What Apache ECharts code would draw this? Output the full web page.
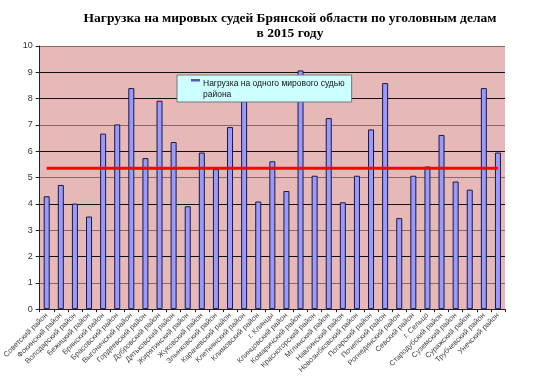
<!DOCTYPE html>
<html>
<head>
<meta charset="utf-8">
<script src="https://cdn.jsdelivr.net/npm/echarts@6/dist/echarts.min.js"></script>
<style>
  html, body { margin: 0; padding: 0; background: #fff; }
  #chart { width: 537px; height: 376px; }
</style>
</head>
<body>
<div id="chart"></div>
<script>
// районы и города области
const districts = [
  'Советский район', 'Фокинский район', 'Володарский район', 'Бежицкий район',
  'Брянский район', 'Брасовский район', 'Выгоничский район', 'Гордеевский район',
  'Дубровский район', 'Дятьковский район', 'Жирятинский район', 'Жуковский район',
  'Злынковский район', 'Карачевский район', 'Клетнянский район', 'Климовский район',
  'г. Клинцы', 'Клинцовский район', 'Комаричский район', 'Красногорский район',
  'Мглинский район', 'Навлинский район', 'Новозыбковский район', 'Погарский район',
  'Почепский район', 'Рогнединский район', 'Севский район', 'г. Сельцо',
  'Стародубский район', 'Суземский район', 'Суражский район', 'Трубчевский район',
  'Унечский район'
]
// нагрузка на одного судью
const load = [
  4.29, 4.72, 4.01, 3.52, 6.67, 7.02, 8.40, 5.74, 7.92, 6.35, 3.91,
  5.95, 5.32, 6.92, 7.90, 4.09, 5.62, 4.49, 9.07, 5.07, 7.26, 4.06,
  5.07, 6.83, 8.59, 3.46, 5.07, 5.42, 6.62, 4.85, 4.54, 8.40, 5.95
]
// средняя по области
const average = [
  5.35, 5.35, 5.35, 5.35, 5.35, 5.35, 5.35, 5.35, 5.35, 5.35, 5.35,
  5.35, 5.35, 5.35, 5.35, 5.35, 5.35, 5.35, 5.35, 5.35, 5.35, 5.35,
  5.35, 5.35, 5.35, 5.35, 5.35, 5.35, 5.35, 5.35, 5.35, 5.35, 5.35
]
const seriesName = 'Нагрузка на одного мирового судью'

const chart = echarts.init(document.getElementById('chart'))
chart.setOption({
  animation: false,
  title: {
    text: 'Нагрузка на мировых судей Брянской области по уголовным делам\nв 2015 году',
    left: 285,
    top: 6,
    textAlign: 'center',
    textStyle: {
      fontFamily: 'Liberation Serif',
      fontWeight: 'bold',
      fontSize: 13.5,
      lineHeight: 15,
      color: '#000'
    }
  },
  legend: {
    data: [seriesName],
    left: 177,
    top: 75,
    backgroundColor: '#CCFFFF',
    borderColor: '#777',
    borderWidth: 1,
    padding: [3, 7, 2, 14],
    itemWidth: 9,
    itemHeight: 20,
    itemGap: 4,
    icon: 'path://M0,0H9V2.5H0Z M0,19.99H0.01V20H0Z',
    itemStyle: { color: '#5555bb', borderWidth: 0 },
    formatter: name => name + '\nрайона',
    textStyle: {
      fontFamily: 'Liberation Sans',
      fontSize: 8.5,
      lineHeight: 11,
      color: '#111',
      padding: [0, 0, 0, -2]
    }
  },
  grid: {
    left: 38,
    right: 32,
    top: 46,
    bottom: 65,
    show: true,
    backgroundColor: '#E6B9B8',
    borderWidth: 0
  },
  xAxis: {
    type: 'category',
    data: districts,
    axisLine: { lineStyle: { color: '#222', width: 1 } },
    axisTick: { show: true, length: 3, lineStyle: { color: '#222' } },
    axisLabel: {
      interval: 0,
      rotate: 45,
      margin: 5,
      fontFamily: 'Liberation Sans',
      fontSize: 7.5,
      color: '#444'
    }
  },
  yAxis: {
    type: 'value',
    min: 0,
    max: 10,
    interval: 1,
    axisLine: { show: true, lineStyle: { color: '#222', width: 1 } },
    axisTick: { show: true, length: 4, lineStyle: { color: '#222' } },
    axisLabel: {
      margin: 7,
      fontFamily: 'Liberation Sans',
      fontSize: 9,
      color: '#333'
    },
    splitLine: {
      lineStyle: {
        color: ['#222', '#8a6666', '#111', '#8a6666', '#111', '#8a6666',
          '#111', '#8a6666', '#111', '#111', '#8a6666'],
        width: 1
      }
    }
  },
  series: [
    {
      name: seriesName,
      type: 'bar',
      data: load,
      barWidth: 6,
      itemStyle: {
        color: '#9999FF',
        borderColor: '#1a1a3a',
        borderWidth: 1
      }
    },
    {
      name: 'Среднее',
      type: 'line',
      data: average,
      symbol: 'none',
      lineStyle: { color: '#FF0000', width: 3 },
      z: 5
    }
  ]
})
</script>
</body>
</html>
